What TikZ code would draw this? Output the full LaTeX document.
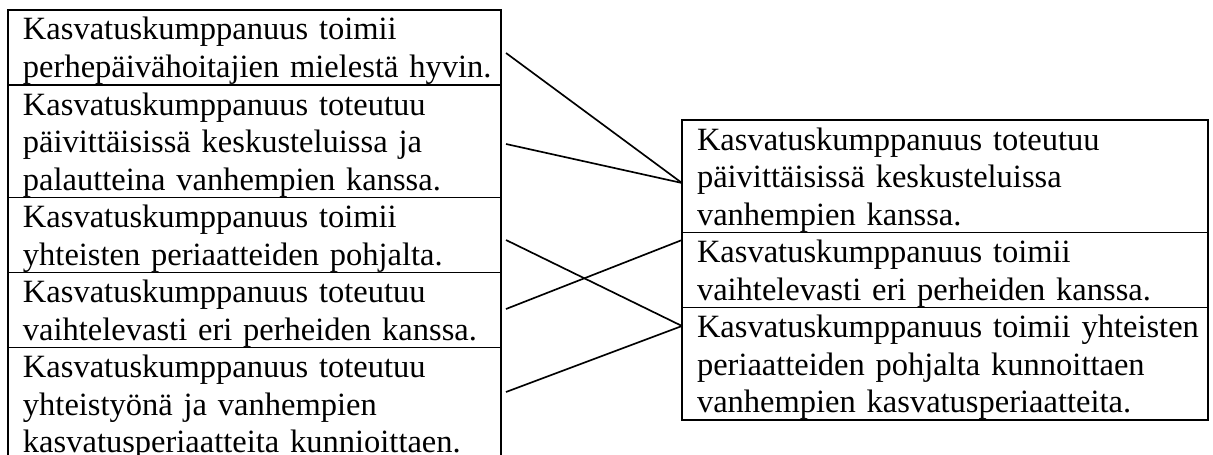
\documentclass[tikz,border=0pt]{standalone}
\usepackage{fontspec}
\setmainfont{Liberation Serif}
\usetikzlibrary{calc}
\newcommand{\lnstrut}{\rule[-2.7pt]{0pt}{13.5pt}}

\begin{document}
\begin{tikzpicture}[x=0.36pt,y=-0.36pt]
	\tikzstyle{every node}=[font=\fontsize{11.7}{13.5}\selectfont]
	\tikzstyle{lbox}=[draw,line width=0.6pt,anchor=north west,align=left,inner xsep=0pt,inner ysep=0pt,outer sep=0pt,text width=177.48pt,execute at begin node={\leftskip=5.4pt}]
	\tikzstyle{rbox}=[lbox,text width=189.36pt]
	
	%%page
	\useasboundingbox (0.0000,0.0000) rectangle (1213.0000,454.0000);
	\clip (0.0000,0.0000) rectangle (1213.0000,454.0000);
	
	%%left column
	\node [lbox] (kl1) at (8.0000,10.0000) {\lnstrut Kasvatuskumppanuus toimii\\perhepäivähoitajien mielestä hyvin.\lnstrut};
	\node [lbox] (kl2) at (8.0000,85.0000) {\lnstrut Kasvatuskumppanuus toteutuu\\päivittäisissä keskusteluissa ja\\palautteina vanhempien kanssa.\lnstrut};
	\node [lbox] (kl3) at (8.0000,197.5000) {\lnstrut Kasvatuskumppanuus toimii\\yhteisten periaatteiden pohjalta.\lnstrut};
	\node [lbox] (kl4) at (8.0000,272.5000) {\lnstrut Kasvatuskumppanuus toteutuu\\vaihtelevasti eri perheiden kanssa.\lnstrut};
	\node [lbox] (kl5) at (8.0000,347.5000) {\lnstrut Kasvatuskumppanuus toteutuu\\yhteistyönä ja vanhempien\\kasvatusperiaatteita kunnioittaen.\lnstrut};
	
	%%right column
	\node [rbox] (kr1) at (682.0000,120.0000) {\lnstrut Kasvatuskumppanuus toteutuu\\päivittäisissä keskusteluissa\\vanhempien kanssa.\lnstrut};
	\node [rbox] (kr2) at (682.0000,232.5000) {\lnstrut Kasvatuskumppanuus toimii\\vaihtelevasti eri perheiden kanssa.\lnstrut};
	\node [rbox] (kr3) at (682.0000,307.5000) {\lnstrut Kasvatuskumppanuus toimii yhteisten\\periaatteiden pohjalta kunnoittaen\\vanhempien kasvatusperiaatteita.\lnstrut};
	
	%%line starts
	\coordinate (s1) at ($(kl1.north east)+(5.0000,43.0000)$);
	\coordinate (s2) at ($(kl2.north east)+(5.0000,59.0000)$);
	\coordinate (s3) at ($(kl3.north east)+(5.0000,42.5000)$);
	\coordinate (s4) at ($(kl4.north east)+(5.0000,36.5000)$);
	\coordinate (s5) at ($(kl5.north east)+(5.0000,44.5000)$);
	
	\draw [line width=0.6pt] (s1) -- ($(kr1.north west)+(0.0000,63.0000)$);
	\draw [line width=0.6pt] (s2) -- ($(kr1.north west)+(0.0000,63.0000)$);
	\draw [line width=0.6pt] (s3) -- ($(kr3.north west)+(0.0000,18.5000)$);
	\draw [line width=0.6pt] (s4) -- ($(kr2.north west)+(0.0000,7.5000)$);
	\draw [line width=0.6pt] (s5) -- ($(kr3.north west)+(0.0000,18.5000)$);

\end{tikzpicture}
\end{document}
